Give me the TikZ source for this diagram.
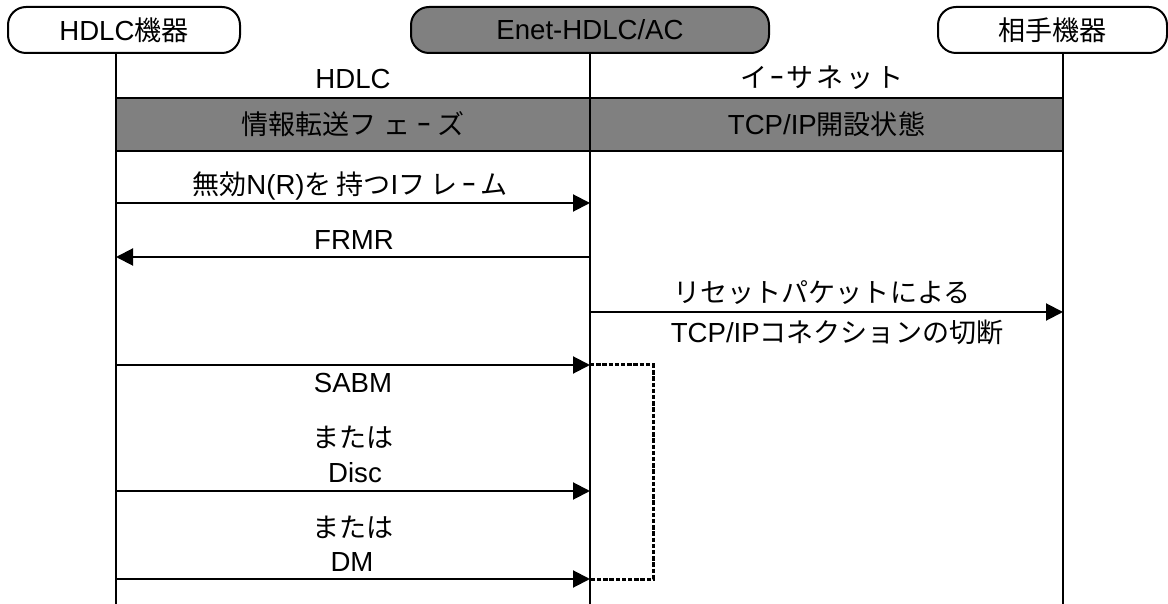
\documentclass[tikz,border=0pt]{standalone}
\usepackage{fontspec}
\setmainfont{Liberation Sans}
\newfontfamily\jp{Noto Sans CJK JP}[Scale=0.98]
\usetikzlibrary{arrows.meta}
\definecolor{bandgray}{RGB}{128,128,128}
\tikzset{
  lbl/.style={font=\fontsize{13.8}{15}\selectfont, inner sep=0pt},
  devbox/.style={draw, line width=1pt, rounded corners=9pt, minimum height=23pt, lbl},
  bandbox/.style={draw, line width=1.2pt, fill=bandgray, minimum height=26.5pt, lbl},
  lifeline/.style={line width=0.8pt},
  msg/.style={line width=1pt, -{Triangle[length=8.5pt,width=8.5pt]}},
  bracket/.style={line width=1.5pt, dash pattern=on 2.2pt off 0.9pt}
}
\newcommand{\J}[1]{{\jp #1}}
\newcommand{\gp}{\hspace{0.25em}}
\newcommand{\gm}{\hspace{0.18em}}
\newcommand{\gs}{\hspace{0.1em}}
\begin{document}
\begin{tikzpicture}[x=0.5pt,y=-0.5pt]
\useasboundingbox (0,0) rectangle (1168,604);
% bands
\node[bandbox, minimum width=237pt] (bandL) at (353,124.5) {\J{情報転送フ\gp ェ\gp ｰ\gp ズ}};
\node[bandbox, minimum width=236.5pt] (bandR) at (826.5,124.5) {TCP/IP\J{開設状態}};
% devices
\node[devbox, minimum width=116pt] (hdlc) at (124,30) {HDLC\J{機器}};
\node[devbox, fill=bandgray, minimum width=179pt] (enet) at (590,30) {Enet-HDLC/AC};
\node[devbox, minimum width=114.5pt] (peer) at (1052.5,30) {\J{相手機器}};
% lifelines
\coordinate (l1t) at (116,53); \coordinate (l1b) at (116,604);
\coordinate (l2t) at (590,53); \coordinate (l2b) at (590,604);
\coordinate (l3t) at (1063,53); \coordinate (l3b) at (1063,604);
\draw[lifeline] (l1t) -- (l1b);
\draw[lifeline] (l2t) -- (l2b);
\draw[lifeline] (l3t) -- (l3b);
% protocol labels
\node[lbl] (phdlc) at (353,79) {HDLC};
\node[lbl] (peth) at (822,78) {\J{イ\gs ｰ\gs サ\gs ネ\gs ッ\gs ト}};
% messages
\coordinate (m1s) at (116,203); \coordinate (m1e) at (590,203);
\draw[msg] (m1s) -- (m1e);
\node[lbl] (m1l) at (350,186) {\J{無効}N(R)\J{を\gm 持つ}I\J{フ\gm レ\gm ｰ\gm ム}};
\coordinate (m2s) at (590,257); \coordinate (m2e) at (116,257);
\draw[msg] (m2s) -- (m2e);
\node[lbl] (m2l) at (354,240) {FRMR};
\coordinate (m3s) at (590,312); \coordinate (m3e) at (1063,312);
\draw[msg] (m3s) -- (m3e);
\node[lbl] (m3a) at (822,293) {\J{リセットパケットによる}};
\node[lbl] (m3b) at (837,332) {TCP/IP\J{コネクションの切断}};
\coordinate (s1s) at (116,365); \coordinate (s1e) at (590,365);
\draw[msg] (s1s) -- (s1e);
\node[lbl] (s1l) at (353,383) {SABM};
\node[lbl] (or1) at (353,437) {\J{または}};
\node[lbl] (s2l) at (355,473) {Disc};
\coordinate (s2s) at (116,491); \coordinate (s2e) at (590,491);
\draw[msg] (s2s) -- (s2e);
\node[lbl] (or2) at (353,527) {\J{または}};
\node[lbl] (s3l) at (352,562) {DM};
\coordinate (s3s) at (116,579); \coordinate (s3e) at (590,579);
\draw[msg] (s3s) -- (s3e);
% bracket
\coordinate (brk) at (653,365);
\draw[bracket] (s1e) -- (brk) |- (s3e);
\end{tikzpicture}
\end{document}
